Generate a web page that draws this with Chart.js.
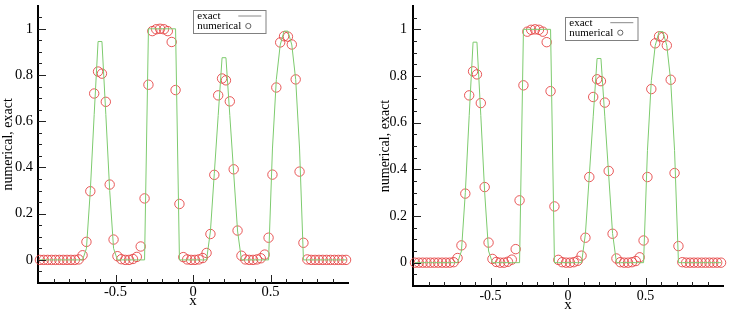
<!DOCTYPE html>
<html>
<head>
<meta charset="utf-8">
<script src="https://cdn.jsdelivr.net/npm/chart.js@4/dist/chart.umd.min.js"></script>
<style>
  html, body { margin: 0; padding: 0; background: #fff; }
  #wrap { position: relative; width: 733px; height: 316px; overflow: hidden; }
  canvas { position: absolute; top: 0; }
</style>
</head>
<body>
<div id="wrap">
  <canvas id="leftChart" width="366" height="316" style="left:0"></canvas>
  <canvas id="rightChart" width="367" height="316" style="left:366px"></canvas>
</div>
<script>
// sample positions (cell centres on [-1, 1])
const xGrid = [
  -0.9875, -0.9625, -0.9375, -0.9125, -0.8875, -0.8625, -0.8375, -0.8125, -0.7875, -0.7625,
  -0.7375, -0.7125, -0.6875, -0.6625, -0.6375, -0.6125, -0.5875, -0.5625, -0.5375, -0.5125,
  -0.4875, -0.4625, -0.4375, -0.4125, -0.3875, -0.3625, -0.3375, -0.3125, -0.2875, -0.2625,
  -0.2375, -0.2125, -0.1875, -0.1625, -0.1375, -0.1125, -0.0875, -0.0625, -0.0375, -0.0125,
  0.0125, 0.0375, 0.0625, 0.0875, 0.1125, 0.1375, 0.1625, 0.1875, 0.2125, 0.2375,
  0.2625, 0.2875, 0.3125, 0.3375, 0.3625, 0.3875, 0.4125, 0.4375, 0.4625, 0.4875,
  0.5125, 0.5375, 0.5625, 0.5875, 0.6125, 0.6375, 0.6625, 0.6875, 0.7125, 0.7375,
  0.7625, 0.7875, 0.8125, 0.8375, 0.8625, 0.8875, 0.9125, 0.9375, 0.9625, 0.9875
];

const exactValues = [
  0, 0, 0, 0, 0, 0, 0, 0, 0, 0,
  0, 0, 0.05, 0.30, 0.63, 0.945, 0.945, 0.63, 0.30, 0.05,
  0, 0, 0, 0, 0, 0, 0, 0, 1, 1,
  1, 1, 1, 1, 1, 1, 0, 0, 0, 0,
  0, 0, 0, 0, 0.125, 0.375, 0.625, 0.875, 0.875, 0.625,
  0.375, 0.125, 0, 0, 0, 0, 0, 0, 0, 0,
  0.48, 0.78, 0.93, 0.99, 0.99, 0.93, 0.78, 0.48, 0, 0,
  0, 0, 0, 0, 0, 0, 0, 0, 0, 0
];

const numericalLeft = [
  0, 0, 0, 0, 0, 0, 0, 0, 0, 0,
  0.002, 0.02, 0.078, 0.297, 0.72, 0.815, 0.806, 0.684, 0.326, 0.088,
  0.016, 0.003, 0, 0, 0.004, 0.013, 0.058, 0.266, 0.758, 0.99,
  0.998, 1.0, 0.998, 0.99, 0.943, 0.735, 0.242, 0.012, 0.002, 0,
  0, 0.002, 0.008, 0.03, 0.112, 0.368, 0.712, 0.785, 0.777, 0.686,
  0.392, 0.127, 0.018, 0.002, 0, 0, 0.002, 0.007, 0.023, 0.096,
  0.369, 0.746, 0.941, 0.968, 0.966, 0.932, 0.781, 0.382, 0.074, 0.002,
  0, 0, 0, 0, 0, 0, 0, 0, 0, 0
];

const numericalRight = [
  0, 0, 0, 0, 0, 0, 0, 0, 0, 0,
  0.002, 0.02, 0.074, 0.296, 0.717, 0.82, 0.807, 0.684, 0.324, 0.086,
  0.016, 0.003, 0, 0, 0.004, 0.013, 0.058, 0.267, 0.76, 0.99,
  0.998, 1.0, 0.998, 0.99, 0.945, 0.735, 0.241, 0.012, 0.002, 0,
  0, 0.002, 0.008, 0.03, 0.107, 0.367, 0.71, 0.786, 0.778, 0.686,
  0.393, 0.124, 0.018, 0.002, 0, 0, 0.002, 0.007, 0.023, 0.095,
  0.367, 0.744, 0.94, 0.97, 0.967, 0.931, 0.784, 0.384, 0.071, 0.002,
  0, 0, 0, 0, 0, 0, 0, 0, 0, 0
];

const xTickValues = [-0.5, 0, 0.5];
const yTickValues = [0, 0.2, 0.4, 0.6, 0.8, 1];
const xMinorValues = [-0.9, -0.8, -0.7, -0.6, -0.4, -0.3, -0.2, -0.1, 0.1, 0.2, 0.3, 0.4, 0.6, 0.7, 0.8, 0.9];
const yMinorValues = [-0.05, 0.05, 0.1, 0.15, 0.25, 0.3, 0.35, 0.45, 0.5, 0.55, 0.65, 0.7, 0.75, 0.85, 0.9, 0.95, 1.05];

const SERIF = "'Liberation Serif', 'Times New Roman', serif";
const LINE_COLOR = '#7dcb6e';
const CIRCLE_COLOR = 'rgba(228, 60, 60, 0.85)';

// ticks point inward, like the original plot
const innerTicks = {
  id: 'innerTicks',
  afterDraw(chart) {
    const { ctx, chartArea, scales: { x, y } } = chart;
    ctx.save();
    ctx.strokeStyle = '#222';
    ctx.lineWidth = 1;
    const tick = (x1, y1, x2, y2) => {
      ctx.beginPath();
      ctx.moveTo(x1, y1);
      ctx.lineTo(x2, y2);
      ctx.stroke();
    };
    xTickValues.forEach(v => { const p = Math.round(x.getPixelForValue(v)) + 0.5; tick(p, chartArea.bottom, p, chartArea.bottom - 8); });
    xMinorValues.forEach(v => { const p = Math.round(x.getPixelForValue(v)) + 0.5; tick(p, chartArea.bottom, p, chartArea.bottom - 4); });
    yTickValues.forEach(v => { const p = Math.round(y.getPixelForValue(v)) + 0.5; tick(chartArea.left, p, chartArea.left + 8, p); });
    yMinorValues.forEach(v => { const p = Math.round(y.getPixelForValue(v)) + 0.5; tick(chartArea.left, p, chartArea.left + 4, p); });
    ctx.restore();
  }
};

// boxed legend: label first, symbol after
const boxLegend = {
  id: 'boxLegend',
  afterDraw(chart, args, opts) {
    const { ctx, chartArea } = chart;
    const left = chartArea.left + opts.dx;
    const top = chartArea.top + opts.dy;
    const w = 72.5, h = 23;
    ctx.save();
    ctx.strokeStyle = '#808080';
    ctx.lineWidth = 1;
    ctx.fillStyle = '#fff';
    ctx.fillRect(left, top, w, h);
    ctx.strokeRect(Math.round(left) + 0.5, Math.round(top) + 0.5, w, h);
    ctx.fillStyle = '#000';
    ctx.font = '11px ' + SERIF;
    ctx.textBaseline = 'middle';
    ctx.fillText(chart.data.datasets[0].label, left + 4, top + 6.5);
    ctx.fillText(chart.data.datasets[1].label, left + 4, top + 16.5);
    ctx.strokeStyle = '#888';
    ctx.beginPath();
    ctx.moveTo(left + 45, top + 6);
    ctx.lineTo(left + 68, top + 6);
    ctx.stroke();
    ctx.strokeStyle = '#666';
    ctx.beginPath();
    ctx.arc(left + 55, top + 16, 2.6, 0, Math.PI * 2);
    ctx.stroke();
    ctx.restore();
  }
};

const makeChart = (id, numerical, cfg) => {
  const ctx = document.getElementById(id).getContext('2d');
  return new Chart(ctx, {
    type: 'line',
    data: {
      datasets: [{
        label: 'exact',
        data: xGrid.map((x, i) => ({ x, y: exactValues[i] })),
        borderColor: LINE_COLOR,
        borderWidth: 1,
        pointRadius: 0,
        tension: 0,
        fill: false
      }, {
        label: 'numerical',
        data: xGrid.map((x, i) => ({ x, y: numerical[i] })),
        showLine: false,
        borderColor: CIRCLE_COLOR,
        backgroundColor: 'rgba(0,0,0,0)',
        borderWidth: 1,
        pointRadius: 4.7,
        pointStyle: 'circle',
        clip: false
      }]
    },
    options: {
      responsive: false,
      animation: false,
      devicePixelRatio: 1,
      layout: { padding: { left: 0, right: cfg.padRight, top: cfg.padTop, bottom: 0 } },
      plugins: {
        legend: { display: false },
        tooltip: { enabled: false },
        boxLegend: { dx: cfg.legendDx, dy: cfg.legendDy }
      },
      scales: {
        x: {
          type: 'linear',
          min: -1,
          max: 1,
          afterBuildTicks: s => { s.ticks = xTickValues.map(value => ({ value })); },
          afterFit: s => {
            s.height = cfg.xHeight;
            s.paddingLeft = 0;
            s.paddingRight = 0;
          },
          grid: { display: false, drawTicks: false },
          border: { display: true, color: '#000', width: 2 },
          ticks: {
            color: '#000',
            padding: cfg.xLabelPad,
            maxRotation: 0,
            font: { family: SERIF, size: cfg.fontSize },
            callback: v => String(v)
          },
          title: {
            display: true,
            text: 'x',
            color: '#000',
            font: { family: SERIF, size: 15 },
            padding: { top: 0, bottom: cfg.xTitlePad }
          }
        },
        y: {
          type: 'linear',
          min: -0.1,
          max: 1.1,
          afterBuildTicks: s => { s.ticks = yTickValues.map(value => ({ value })); },
          afterFit: s => {
            s.width = cfg.yWidth;
            s.paddingTop = 0;
            s.paddingBottom = 0;
          },
          grid: { display: false, drawTicks: false },
          border: { display: true, color: '#000', width: 2 },
          ticks: {
            color: '#000',
            padding: cfg.yLabelPad,
            font: { family: SERIF, size: cfg.fontSize },
            callback: v => String(v)
          },
          title: {
            display: true,
            text: 'numerical, exact',
            color: '#000',
            font: { family: SERIF, size: 14 },
            padding: { top: cfg.yTitlePad, bottom: 0 }
          }
        }
      }
    },
    plugins: [innerTicks, boxLegend]
  });
};

makeChart('leftChart', numericalLeft, {
  padRight: 18, padTop: 5, xHeight: 33, yWidth: 38, fontSize: 14.5,
  xLabelPad: 0, xTitlePad: 6, yLabelPad: 5, yTitlePad: 0,
  legendDx: 155.3, legendDy: 4.3
});

makeChart('rightChart', numericalRight, {
  padRight: 10, padTop: 6, xHeight: 30, yWidth: 47, fontSize: 14,
  xLabelPad: 2, xTitlePad: 2, yLabelPad: 6, yTitlePad: 10.6,
  legendDx: 152.3, legendDy: 10.7
});
</script>
</body>
</html>
